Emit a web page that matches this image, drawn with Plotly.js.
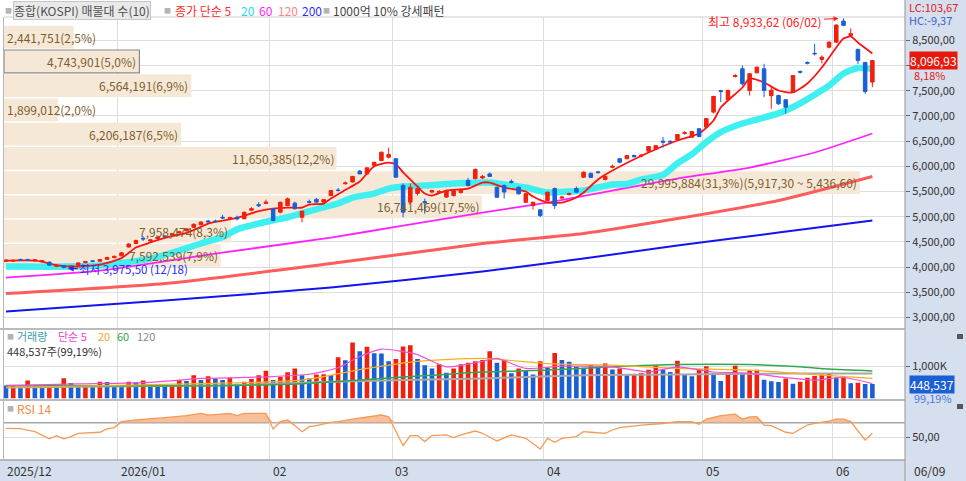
<!DOCTYPE html>
<html><head><meta charset="utf-8">
<script src="https://cdn.plot.ly/plotly-3.0.1.min.js"></script>
<style>html,body{margin:0;padding:0;background:#fff;}#chart{width:966px;height:481px;}</style>
</head><body><div id="chart"></div>
<script>
// ---------------- DATA ----------------
const dates = [
'2025/12/08','2025/12/09','2025/12/10','2025/12/11','2025/12/12','2025/12/15','2025/12/16','2025/12/17','2025/12/18','2025/12/19','2025/12/22','2025/12/23','2025/12/24','2025/12/26','2025/12/29','2025/12/30',
'2026/01/02','2026/01/05','2026/01/06','2026/01/07','2026/01/08','2026/01/09','2026/01/12','2026/01/13','2026/01/14','2026/01/15','2026/01/16','2026/01/19','2026/01/20','2026/01/21','2026/01/22','2026/01/23','2026/01/26','2026/01/27','2026/01/28','2026/01/29','2026/01/30',
'2026/02/02','2026/02/03','2026/02/04','2026/02/05','2026/02/06','2026/02/09','2026/02/10','2026/02/11','2026/02/12','2026/02/13','2026/02/19','2026/02/20','2026/02/23','2026/02/24','2026/02/25','2026/02/26','2026/02/27',
'2026/03/03','2026/03/04','2026/03/05','2026/03/06','2026/03/09','2026/03/10','2026/03/11','2026/03/12','2026/03/13','2026/03/16','2026/03/17','2026/03/18','2026/03/19','2026/03/20','2026/03/23','2026/03/24','2026/03/25','2026/03/26','2026/03/27','2026/03/30','2026/03/31',
'2026/04/01','2026/04/02','2026/04/03','2026/04/06','2026/04/07','2026/04/08','2026/04/09','2026/04/10','2026/04/13','2026/04/14','2026/04/15','2026/04/16','2026/04/17','2026/04/20','2026/04/21','2026/04/22','2026/04/23','2026/04/24','2026/04/27','2026/04/28','2026/04/29','2026/04/30',
'2026/05/04','2026/05/06','2026/05/07','2026/05/08','2026/05/11','2026/05/12','2026/05/13','2026/05/14','2026/05/15','2026/05/18','2026/05/19','2026/05/20','2026/05/21','2026/05/22','2026/05/26','2026/05/27','2026/05/28','2026/05/29',
'2026/06/01','2026/06/02','2026/06/04','2026/06/05','2026/06/08','2026/06/09'];

const open = [4115,4118,4152,4150,4125,4108,4100,4015,4030,4000,4040,4090,4125,4118,4155,4188,
4225,4400,4470,4575,4520,4570,4620,4640,4680,4720,4790,4840,4915,4915,4990,4970,4990,4960,5130,5240,5265,
5160,5090,5222,5270,4990,5300,5345,5290,5420,5530,5655,5690,5905,5850,6020,6115,6180,
6150,5620,5290,5460,5300,5490,5480,5390,5420,5480,5718,5757,5770,5850,5585,5620,5700,5585,5287,5222,5137,
5321,5560,5370,5440,5560,5785,5860,5890,5740,5980,6150,6150,6214,6205,6300,6340,6500,6495,6530,6650,6577,6745,
6777,7075,7500,7319,7780,7934,7504,7855,7934,7400,7404,7320,7470,7880,8060,8240,8120,8363,
8462,8880,8595,8320,8060,7670];
const high = [4160,4150,4170,4168,4155,4140,4112,4055,4042,4040,4100,4125,4140,4165,4210,4230,
4300,4475,4545,4610,4560,4610,4640,4680,4720,4770,4870,4905,4940,4945,5040,5000,5020,5100,5190,5290,5340,
5170,5300,5380,5300,5120,5340,5370,5350,5530,5570,5700,5810,5930,5980,6090,6290,6370,
6160,5660,5660,5600,5360,5540,5530,5540,5540,5560,5770,5960,5830,5880,5600,5640,5740,5600,5470,5300,5150,
5500,5580,5410,5480,5600,5900,5880,5910,5820,6030,6170,6225,6230,6250,6400,6420,6580,6520,6640,6700,6700,6760,
6960,7400,7518,7520,7830,8000,7850,7980,8033,7570,7420,7330,7810,7900,8080,8430,8200,8480,
8810,8933.62,8734,8330,8070,8110];
const low = [4100,4105,4125,4128,4112,4090,4030,4000,3975.5,3985,4030,4075,4100,4110,4145,4180,
4215,4390,4455,4520,4500,4555,4590,4630,4670,4710,4780,4830,4880,4890,4960,4950,4930,4950,5110,5190,5250,
4910,5070,5210,5140,4890,5260,5280,5280,5410,5500,5640,5680,5840,5840,6010,6100,6160,
5770,4990,5260,5420,5060,5460,5450,5370,5400,5460,5600,5740,5750,5790,5380,5360,5660,5440,5270,5143,4990,
5300,5156,5350,5420,5470,5770,5770,5860,5720,5960,6060,6140,6180,6180,6290,6330,6370,6460,6520,6630,6560,6580,
6760,7050,7272,7300,7760,7600,7404,7840,7371,7140,7220,7041,7460,7840,8020,8200,8040,8340,
8450,8780,8580,8030,7438,7570];
const close = [4140,4135,4142,4138,4145,4128,4040,4035,3994.5,4025,4085,4112,4118,4150,4192,4215,
4285,4460,4530,4560,4540,4595,4605,4665,4700,4760,4850,4895,4900,4905,4975,4985,4955,5090,5160,5220,5290,
4925,5287,5355,5160,5110,5287,5290,5340,5520,5520,5670,5800,5850,5970,6080,6280,6235,
5785,5090,5585,5560,5280,5520,5500,5520,5520,5540,5620,5937,5800,5800,5387,5490,5685,5455,5455,5287,5024,
5486,5222,5390,5460,5486,5883,5780,5875,5800,6000,6081,6214,6190,6220,6393,6410,6480,6480,6630,6665,6690,6590,
6948,7385,7484,7504,7801,7636,7835,7966,7504,7510,7240,7173,7801,7867,8046,8232,8165,8462,
8801.5,8795,8630,8100,7484.7,8096.93];

// trading volume (shares)
const volume = [400000,420000,360000,560000,420000,360000,430000,360000,630000,480000,380000,400000,380000,520000,510000,420000,
410000,520000,500000,560000,440000,400000,390000,420000,570000,540000,720000,570000,690000,620000,570000,640000,460000,520000,600000,720000,860000,
570000,670000,810000,930000,720000,620000,740000,750000,730000,1280000,1180000,1730000,1460000,1600000,1400000,1390000,1150000,
1220000,1610000,1650000,1220000,1030000,930000,1060000,800000,930000,1060000,1110000,1150000,1190000,1460000,1110000,1190000,780000,930000,880000,740000,1150000,
950000,1410000,1190000,1140000,980000,950000,1030000,980000,1080000,900000,930000,720000,730000,790000,890000,1030000,890000,820000,1170000,740000,690000,900000,
1000000,790000,540000,770000,1010000,770000,870000,890000,580000,530000,510000,620000,460000,520000,640000,700000,740000,780000,
650000,660000,470000,490000,452200,448537];

// price moving averages: [bar index], [value]
const ma5Idx = [0,4,5,7,9,13,16,18,20,22,25,27,28,30,32,35,37,39,41,42,44,45,47,49,50,51,53,54,55,57,58,59,61,64,66,67,69,72,73,75,77,79,80,82,84,89,93,96,98,99,102,103,105,107,109,111,113,115,116,117,118,120];
const ma5Val = [4131,4131,4110,4040,4012,4050,4180,4390,4490,4580,4680,4800,4865,4924,4980,5110,5163,5182,5180,5242,5262,5361,5530,5700,5857,6000,6075,6040,5880,5600,5460,5420,5520,5560,5678,5678,5579,5500,5400,5282,5282,5381,5480,5740,5916,6274,6512,6651,6908,7166,7563,7742,7662,7504,7464,7643,7960,8357,8535,8575,8456,8238];
const ma20Idx = [0,9,13,20,24,27,30,32,34,37,39,43,46,48,51,53,55,58,62,67,70,72,75,78,80,84,86,88,91,93,95,97,99,102,107,110,112,114,116,118,120];
const ma20Val = [4012,4012,4032,4171,4330,4470,4600,4750,4830,4930,4990,5150,5262,5381,5460,5559,5600,5619,5658,5678,5620,5579,5480,5500,5520,5640,5650,5740,5830,6060,6240,6480,6680,6850,7050,7250,7420,7600,7840,7950,7930];
const ma60Idx = [0,13,29,45,55,66,75,84,93,103,112,120];
const ma60Val = [3794,3932,4270,4587,4825,5083,5282,5520,5758,5976,6274,6651];
const ma120Idx = [0,22,45,66,80,93,107,120];
const ma120Val = [3476,3675,4071,4468,4667,4964,5321,5797];
const ma200Idx = [0,22,45,66,80,93,107,120];
const ma200Val = [3119,3337,3595,3913,4171,4429,4686,4924];

// volume moving averages
const vma5Idx = [0,10,20,27,36,42,46,49,52,55,57,61,66,68,72,77,84,89,93,98,103,107,112,116,120];
const vma5Val = [400000,450000,500000,620000,670000,750000,950000,1300000,1530000,1450000,1360000,980000,1150000,1240000,930000,1000000,980000,820000,980000,820000,780000,670000,570000,650000,460000];
const vma20Idx = [0,27,41,50,57,66,75,84,93,103,112,120];
const vma20Val = [340000,460000,570000,930000,1150000,1240000,1080000,1030000,930000,880000,740000,620000];
const vma60Idx = [0,27,41,50,59,66,75,84,93,103,110,114,120];
const vma60Val = [400000,390000,460000,590000,720000,820000,880000,980000,1050000,1050000,980000,910000,850000];
const vma120Idx = [0,31,45,66,80,93,107,120];
const vma120Val = [340000,410000,520000,620000,720000,740000,770000,770000];

// RSI 14
const rsiIdx = [0,2,4,6,7,8,9,10,13,14,15,16,18,20,22,25,27,28,31,32,33,36,37,38,39,40,41,42,43,45,46,48,50,52,53,54,55,56,57,58,59,61,62,63,65,66,68,70,72,74,75,76,77,79,80,81,83,84,85,88,91,93,95,96,97,99,101,102,103,104,105,106,108,109,111,112,114,115,116,117,119,120];
const rsiVal = [62.3,61.8,57.7,47.9,52.3,47.9,51,55.5,56.9,61.5,63.4,71.4,73.7,75,76.9,79.6,82.8,80.5,82.8,79.6,82.8,82.8,61.5,71.4,73.7,66,57.7,64.5,66,70.5,71.4,75,78.2,80.5,78.2,58,38.5,52.3,52.3,44.1,52.3,53.2,49.6,53.2,58.6,55.5,45,53.2,48.6,34,48.6,43.1,48.6,51,57.7,56.9,55.5,60,63.4,66.8,68.9,71.4,71.4,67.7,75,79.6,81.7,74.8,77.8,78.2,66.8,66,56.9,55.5,66.8,69.1,72.3,75,75,71.4,46.3,55.5];
const rsiLevel = 70;

// volume profile (매물대), 10 bands from top to bottom
const profileVol = [2441751,4743901,6564191,1899012,6206187,11650385,29995884,16741469,7958474,7592539];
const profilePct = [2.5,5.0,6.9,2.0,6.5,12.2,31.3,17.5,8.3,7.9];

const priceTicks = [3000,3500,4000,4500,5000,5500,6000,6500,7000,7500,8000,8500];
const lcValue = 103.67, hcValue = -9.37;

// ---------------- HELPERS ----------------
const W = 966, H = 481;
const fx = px => px / W;
const fy = py => 1 - py / H;
const FONT = '"Noto Sans CJK KR", "Noto Sans", "DejaVu Sans", sans-serif';
function fmt(v, dec) {
  const s = Number(v).toFixed(dec);
  let parts = s.split('.');
  let ip = parts[0].replace(/\B(?=(\d{3})+(?!\d))/g, ',');
  return parts.length > 1 ? ip + ',' + parts[1] : ip;
}
const RED = '#f0200f', BLUE = '#1a5fd5';
const idx = dates.map((d, i) => i);
const n = dates.length;
const xr = [-0.277, 124.52];

// month boundaries
const monthStarts = [];
dates.forEach((d, i) => { if (i === 0 || d.slice(0, 7) !== dates[i - 1].slice(0, 7)) monthStarts.push(i); });
const monthTicks = monthStarts.map(i => i - 0.5);
const monthLabels = monthStarts.map((i, k) => {
  const y = dates[i].slice(0, 4), m = dates[i].slice(5, 7);
  if (k === 0 || y !== dates[monthStarts[k - 1]].slice(0, 4)) return y + '/' + m;
  return m;
});

// profile bands from close range
const pLo = Math.min(...close), pHi = Math.max(...close);
const nb = profileVol.length;
const step = (pHi - pLo) / nb;
const bandTop = profileVol.map((v, k) => pHi - k * step);
const bandBot = profileVol.map((v, k) => pHi - (k + 1) * step);
const bandMid = profileVol.map((v, k) => (bandTop[k] + bandBot[k]) / 2);
const lastClose = close[n - 1];
const curBand = bandMid.findIndex((m, k) => lastClose <= bandTop[k] && lastClose >= bandBot[k]);
const maxBand = profileVol.indexOf(Math.max(...profileVol));
const profRange = 31.57e6;

// ---------------- TRACES ----------------
const traces = [];
traces.push({
  type: 'bar', orientation: 'h', xaxis: 'x', yaxis: 'y',
  x: profileVol, y: bandMid, width: step * 0.94,
  marker: { color: '#f6e8d6', line: { color: '#8a8a8a', width: profileVol.map((v, k) => k === curBand ? 1.2 : 0) } },
  hoverinfo: 'skip'
});
function line(xa, ya, xs, ys, color, width) {
  return { type: 'scatter', mode: 'lines', xaxis: xa, yaxis: ya, x: xs, y: ys, line: { color, width, shape: 'spline', smoothing: 0.6 }, hoverinfo: 'skip' };
}
traces.push(line('x5', 'y', ma200Idx, ma200Val, '#1414ee', 2));
traces.push(line('x5', 'y', ma120Idx, ma120Val, '#ff5c5c', 3));
traces.push(line('x5', 'y', ma60Idx, ma60Val, '#ff22ff', 1.8));
traces.push(line('x5', 'y', ma20Idx, ma20Val, '#40f0f0', 6.5));
traces.push(line('x5', 'y', ma5Idx, ma5Val, '#ff1212', 1.8));
traces.push({
  type: 'candlestick', xaxis: 'x6', yaxis: 'y', x: idx,
  open, high, low, close,
  increasing: { line: { color: RED, width: 1 }, fillcolor: RED },
  decreasing: { line: { color: BLUE, width: 1 }, fillcolor: BLUE },
  whiskerwidth: 0, hoverinfo: 'skip'
});
// volume
traces.push({
  type: 'bar', xaxis: 'x2', yaxis: 'y2', x: idx, y: volume, width: 0.64,
  marker: { color: volume.map((v, i) => (i === 0 || v < volume[i - 1]) ? BLUE : RED) },
  hoverinfo: 'skip'
});
traces.push(line('x2', 'y2', vma120Idx, vma120Val, '#a8a8a8', 2));
traces.push(line('x2', 'y2', vma60Idx, vma60Val, '#30a850', 1.5));
traces.push(line('x2', 'y2', vma20Idx, vma20Val, '#f5b020', 1.2));
traces.push(line('x2', 'y2', vma5Idx, vma5Val, '#f050d0', 1.2));
// RSI
traces.push({ type: 'scatter', mode: 'lines', xaxis: 'x3', yaxis: 'y3', x: rsiIdx, y: rsiIdx.map(() => rsiLevel), line: { width: 0 }, hoverinfo: 'skip' });
traces.push({ type: 'scatter', mode: 'lines', xaxis: 'x3', yaxis: 'y3', x: rsiIdx, y: rsiVal.map(v => Math.max(v, rsiLevel)), fill: 'tonexty', fillcolor: 'rgba(244,170,120,0.75)', line: { width: 0 }, hoverinfo: 'skip' });
traces.push({ type: 'scatter', mode: 'lines', xaxis: 'x3', yaxis: 'y3', x: rsiIdx, y: rsiVal, line: { color: '#f59a55', width: 1.3 }, hoverinfo: 'skip' });

// ---------------- ANNOTATIONS ----------------
const ann = [];
function txt(x, y, text, color, size, extra) {
  return Object.assign({ xref: 'paper', yref: 'paper', x: fx(x), y: fy(y), xanchor: 'left', yanchor: 'middle', text, showarrow: false, font: { size: size || 12, color: color } }, extra || {});
}
// header
ann.push(txt(3, 10, '■', '#b4b4b4', 7));
ann.push(txt(13, 10, '종합(KOSPI) 매물대 수(10)', '#505050', 12, { bgcolor: '#e9e9e9', bordercolor: '#c6c6c6', borderwidth: 1, borderpad: 0 }));
ann.push(txt(162, 10, '■', '#b4b4b4', 7));
ann.push(txt(173, 10, '종가 단순 5', '#ff2a2a', 12));
ann.push(txt(239, 10, '20', '#22dcee', 12));
ann.push(txt(257, 10, '60', '#ff22ff', 12));
ann.push(txt(276, 10, '120', '#ff8484', 12));
ann.push(txt(300, 10, '200', '#2f2fff', 12));
ann.push(txt(321, 10, '■', '#b4b4b4', 7));
ann.push(txt(331, 10, '1000억 10% 강세패턴', '#444', 12));

// profile labels
profileVol.forEach((v, k) => {
  let t = fmt(v, 0) + '(' + fmt(profilePct[k], 1) + '%)';
  if (k === maxBand) t += '(' + fmt(bandTop[k], 2) + ' ~ ' + fmt(bandBot[k], 2) + ')';
  const barPx = v / profRange * 901;
  const fits = barPx > t.length * 6.6;
  ann.push({ xref: 'x', yref: 'y', x: fits ? v : 0, y: bandMid[k], xanchor: fits ? 'right' : 'left', yanchor: 'middle',
    text: t, showarrow: false, font: { size: 12, color: '#7d5e2e' }, xshift: fits ? -1 : 1 });
});

// highest / lowest
const hiV = Math.max(...high), hiI = high.indexOf(hiV);
const loV = Math.min(...low), loI = low.indexOf(loV);
ann.push({ xref: 'x6', yref: 'y', x: hiI, y: hiV, text: '최고 ' + fmt(hiV, 2) + ' (' + dates[hiI].slice(5) + ')',
  showarrow: true, ax: -78, ay: 3, arrowcolor: '#ff2020', arrowhead: 2, arrowsize: 1, arrowwidth: 1, standoff: 5,
  font: { size: 12, color: '#ff2020' } });
ann.push({ xref: 'x6', yref: 'y', x: loI, y: loV, text: '최저 ' + fmt(loV, 2) + ' (' + dates[loI].slice(5) + ')',
  showarrow: true, ax: 70, ay: 1, arrowcolor: '#2a2af0', arrowhead: 2, arrowsize: 1, arrowwidth: 1.2, standoff: 4,
  font: { size: 11.5, color: '#2a2af0' } });

// right side labels
ann.push(txt(907, 7, 'LC:' + fmt(lcValue, 2), '#e02020', 11));
ann.push(txt(907, 20, 'HC:' + fmt(hcValue, 2), '#3a62c8', 11));
const chg = (close[n - 1] / close[n - 2] - 1) * 100;
ann.push({ xref: 'paper', yref: 'y', x: fx(909), y: lastClose, xanchor: 'left', yanchor: 'middle', text: fmt(lastClose, 2),
  showarrow: false, bgcolor: '#e8190c', borderpad: 0, font: { size: 12, color: '#fff' } });
ann.push({ xref: 'paper', yref: 'y', x: fx(912), y: lastClose, yshift: -14, xanchor: 'left', yanchor: 'middle', text: fmt(chg, 2) + '%',
  showarrow: false, font: { size: 11, color: '#e02020' } });

// volume labels
const lastVol = volume[n - 1];
const volRatio = lastVol / volume[n - 2] * 100;
ann.push(txt(5, 336, '■', '#b4b4b4', 7));
ann.push(txt(15, 336, '거래량', '#38a0a6', 11));
ann.push(txt(56, 336, '단순 5', '#ee44cc', 11));
ann.push(txt(96, 336, '20', '#f2a818', 11));
ann.push(txt(115, 336, '60', '#2ea44e', 11));
ann.push(txt(135, 336, '120', '#888', 11));
ann.push(txt(5, 351, fmt(lastVol, 0) + '주(' + fmt(volRatio, 2) + '%)', '#333', 11));
ann.push({ xref: 'paper', yref: 'y2', x: fx(909), y: lastVol, xanchor: 'left', yanchor: 'middle', text: fmt(lastVol, 0),
  showarrow: false, bgcolor: '#1a5fd5', borderpad: 0, font: { size: 12, color: '#fff' } });
ann.push({ xref: 'paper', yref: 'y2', x: fx(912), y: lastVol, yshift: -14, xanchor: 'left', yanchor: 'middle', text: fmt(volRatio, 2) + '%',
  showarrow: false, font: { size: 11, color: '#4a78e0' } });

// RSI legend
ann.push(txt(5, 408, '■', '#b4b4b4', 7));
ann.push(txt(15, 408, 'RSI 14', '#f28a3c', 12));

// x labels
monthStarts.forEach((i, k) => {
  ann.push({ xref: 'x3', yref: 'paper', x: Math.max(i - 0.5, xr[0]), y: fy(470), xanchor: 'left', yanchor: 'middle', text: monthLabels[k],
    showarrow: false, xshift: 1, font: { size: 12, color: '#333' } });
});
ann.push(txt(912, 470, dates[n - 1].slice(5), '#333', 12));

// ---------------- SHAPES ----------------
const shapes = [
  { type: 'rect', xref: 'paper', yref: 'paper', x0: fx(905), x1: 1, y0: 0, y1: 1, fillcolor: '#d5dfee', line: { width: 0 }, layer: 'below' },
  { type: 'rect', xref: 'paper', yref: 'paper', x0: 0, x1: fx(905), y0: 0, y1: fy(460), fillcolor: '#d5dfee', line: { width: 0 }, layer: 'below' },
  { type: 'line', xref: 'paper', yref: 'paper', x0: fx(4), x1: fx(905), y0: fy(17), y1: fy(17), line: { color: '#cfcfcf', width: 1 } },
  { type: 'line', xref: 'paper', yref: 'paper', x0: 0, x1: fx(905), y0: fy(329), y1: fy(329), line: { color: '#a4a4a4', width: 1.5 } },
  { type: 'line', xref: 'paper', yref: 'paper', x0: 0, x1: fx(905), y0: fy(400), y1: fy(400), line: { color: '#a4a4a4', width: 1.5 } },
  { type: 'line', xref: 'paper', yref: 'paper', x0: 0, x1: fx(905), y0: fy(460), y1: fy(460), line: { color: '#a4a4a4', width: 1.5 } },
  { type: 'line', xref: 'paper', yref: 'paper', x0: fx(905), x1: fx(905), y0: 0, y1: 1, line: { color: '#a4a4a4', width: 1.2 } },
  { type: 'line', xref: 'paper', yref: 'paper', x0: fx(3.5), x1: fx(3.5), y0: fy(460), y1: fy(17), line: { color: '#b8b8b8', width: 1 } },
  { type: 'line', xref: 'paper', yref: 'y3', x0: fx(4), x1: fx(905), y0: rsiLevel, y1: rsiLevel, line: { color: '#a8a8a8', width: 1.5 }, layer: 'below' },
  { type: 'rect', xref: 'paper', yref: 'paper', x0: fx(957), x1: fx(963), y0: fy(339), y1: fy(334), fillcolor: '#555', line: { width: 0 } },
  { type: 'rect', xref: 'paper', yref: 'paper', x0: fx(957), x1: fx(963), y0: fy(409), y1: fy(404), fillcolor: '#555', line: { width: 0 } }
];

// ---------------- LAYOUT ----------------
const xdom = [fx(4), fx(905)];
const GRID = '#dedede';
const dateAxis = (anchor, extra) => Object.assign({ domain: xdom, range: xr, anchor, tickvals: monthTicks, showticklabels: false, ticks: '',
  showgrid: true, gridcolor: GRID, zeroline: false, showline: false, fixedrange: true }, extra || {});
// the tick label hidden under the current-price box in the reference
const priceTickText = priceTicks.map(v => Math.abs(v - lastClose) < 200 ? '' : fmt(v, 2));
const layout = {
  width: W, height: H, margin: { l: 0, r: 0, t: 0, b: 0 },
  paper_bgcolor: '#ffffff', plot_bgcolor: 'rgba(0,0,0,0)',
  showlegend: false, hovermode: false,
  font: { family: FONT, size: 12, color: '#333' },
  xaxis: { domain: xdom, range: [0, profRange], anchor: 'y', visible: false, fixedrange: true },
  xaxis5: dateAxis('y', { overlaying: 'x' }),
  xaxis6: dateAxis('y', { overlaying: 'x', showgrid: false, rangeslider: { visible: false } }),
  xaxis2: dateAxis('y2'),
  xaxis3: dateAxis('y3'),
  yaxis: { domain: [fy(328), fy(17)], range: [2794, 8961], side: 'right', anchor: 'x', tickvals: priceTicks, ticktext: priceTickText,
    ticks: 'outside', ticklen: 4, tickcolor: '#666', tickfont: { size: 11, color: '#333' }, showgrid: true, gridcolor: GRID, zeroline: false, showline: false, fixedrange: true },
  yaxis2: { domain: [fy(398.5), fy(330)], range: [0, 2.12e6], side: 'right', anchor: 'x2', tickvals: [1e6], ticktext: ['1,000K'],
    ticks: 'outside', ticklen: 4, tickcolor: '#666', tickfont: { size: 11, color: '#333' }, showgrid: true, gridcolor: GRID, zeroline: false, showline: false, fixedrange: true },
  yaxis3: { domain: [fy(459), fy(401)], range: [20.3, 99.7], side: 'right', anchor: 'x3', tickvals: [50], ticktext: [fmt(50, 2)],
    ticks: 'outside', ticklen: 4, tickcolor: '#666', tickfont: { size: 11, color: '#333' }, showgrid: true, gridcolor: GRID, zeroline: false, showline: false, fixedrange: true },
  annotations: ann, shapes
};
Plotly.newPlot('chart', traces, layout, { staticPlot: true, displayModeBar: false });
</script>
</body></html>
